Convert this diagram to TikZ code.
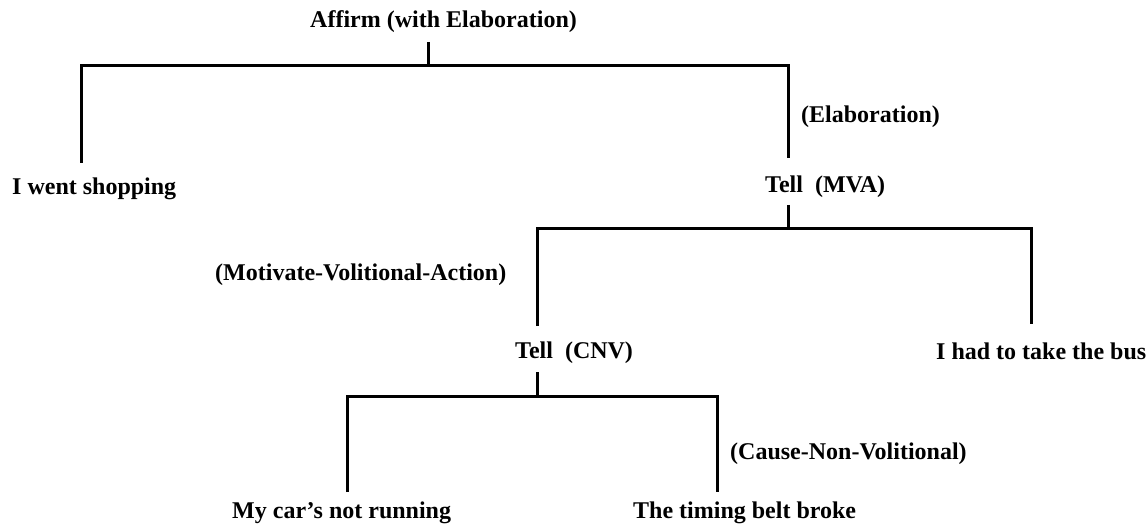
\documentclass[tikz,border=0pt]{standalone}
\usepackage{fontspec}
\setmainfont{Liberation Serif}

\begin{document}
\begin{tikzpicture}[x=1pt,y=-1pt]
\tikzset{rel/.style={inner sep=0pt,anchor=base west,font=\fontsize{24}{28}\selectfont\bfseries},
	branch/.style={line width=3pt}}
\useasboundingbox (0,0) rectangle (1147,529);

% top: Affirm
\node[rel] (affirm) at (310,28) {Affirm (with Elaboration)};
\coordinate (affirm-out) at (428,42);
\coordinate (affirm-bar) at (428,66);

\node[rel] (shop) at (12,195) {I went shopping};
\coordinate (shop-in) at (81,163);

\node[rel] (elab) at (801,123) {(Elaboration)};
\node[rel] (tellmva) at (765,193) {Tell\ \ (MVA)};
\coordinate (mva-in) at (788,158);
\coordinate (mva-out) at (788,205);
\coordinate (mva-bar) at (788,229);

\draw[branch] (affirm-out) -- (affirm-bar);
\draw[branch] (shop-in) |- (affirm-bar) -| (mva-in);

% middle: Tell (MVA)
\node[rel] (motiv) at (215,280) {(Motivate-Volitional-Action)};
\node[rel] (tellcnv) at (515,358) {Tell\ \ (CNV)};
\coordinate (cnv-in) at (537,326);
\coordinate (cnv-out) at (537,372);
\coordinate (cnv-bar) at (537,396);

\node[rel] (bus) at (936,359) {I had to take the bus};
\coordinate (bus-in) at (1031,324);

\draw[branch] (mva-out) -- (mva-bar);
\draw[branch] (cnv-in) |- (mva-bar) -| (bus-in);

% bottom: Tell (CNV)
\node[rel] (cause) at (730,459) {(Cause-Non-Volitional)};
\node[rel] (car) at (232,518) {My car's not running};
\coordinate (car-in) at (347,492);
\node[rel] (belt) at (633,518) {The timing belt broke};
\coordinate (belt-in) at (717,492);

\draw[branch] (cnv-out) -- (cnv-bar);
\draw[branch] (car-in) |- (cnv-bar) -| (belt-in);

\end{tikzpicture}
\end{document}
